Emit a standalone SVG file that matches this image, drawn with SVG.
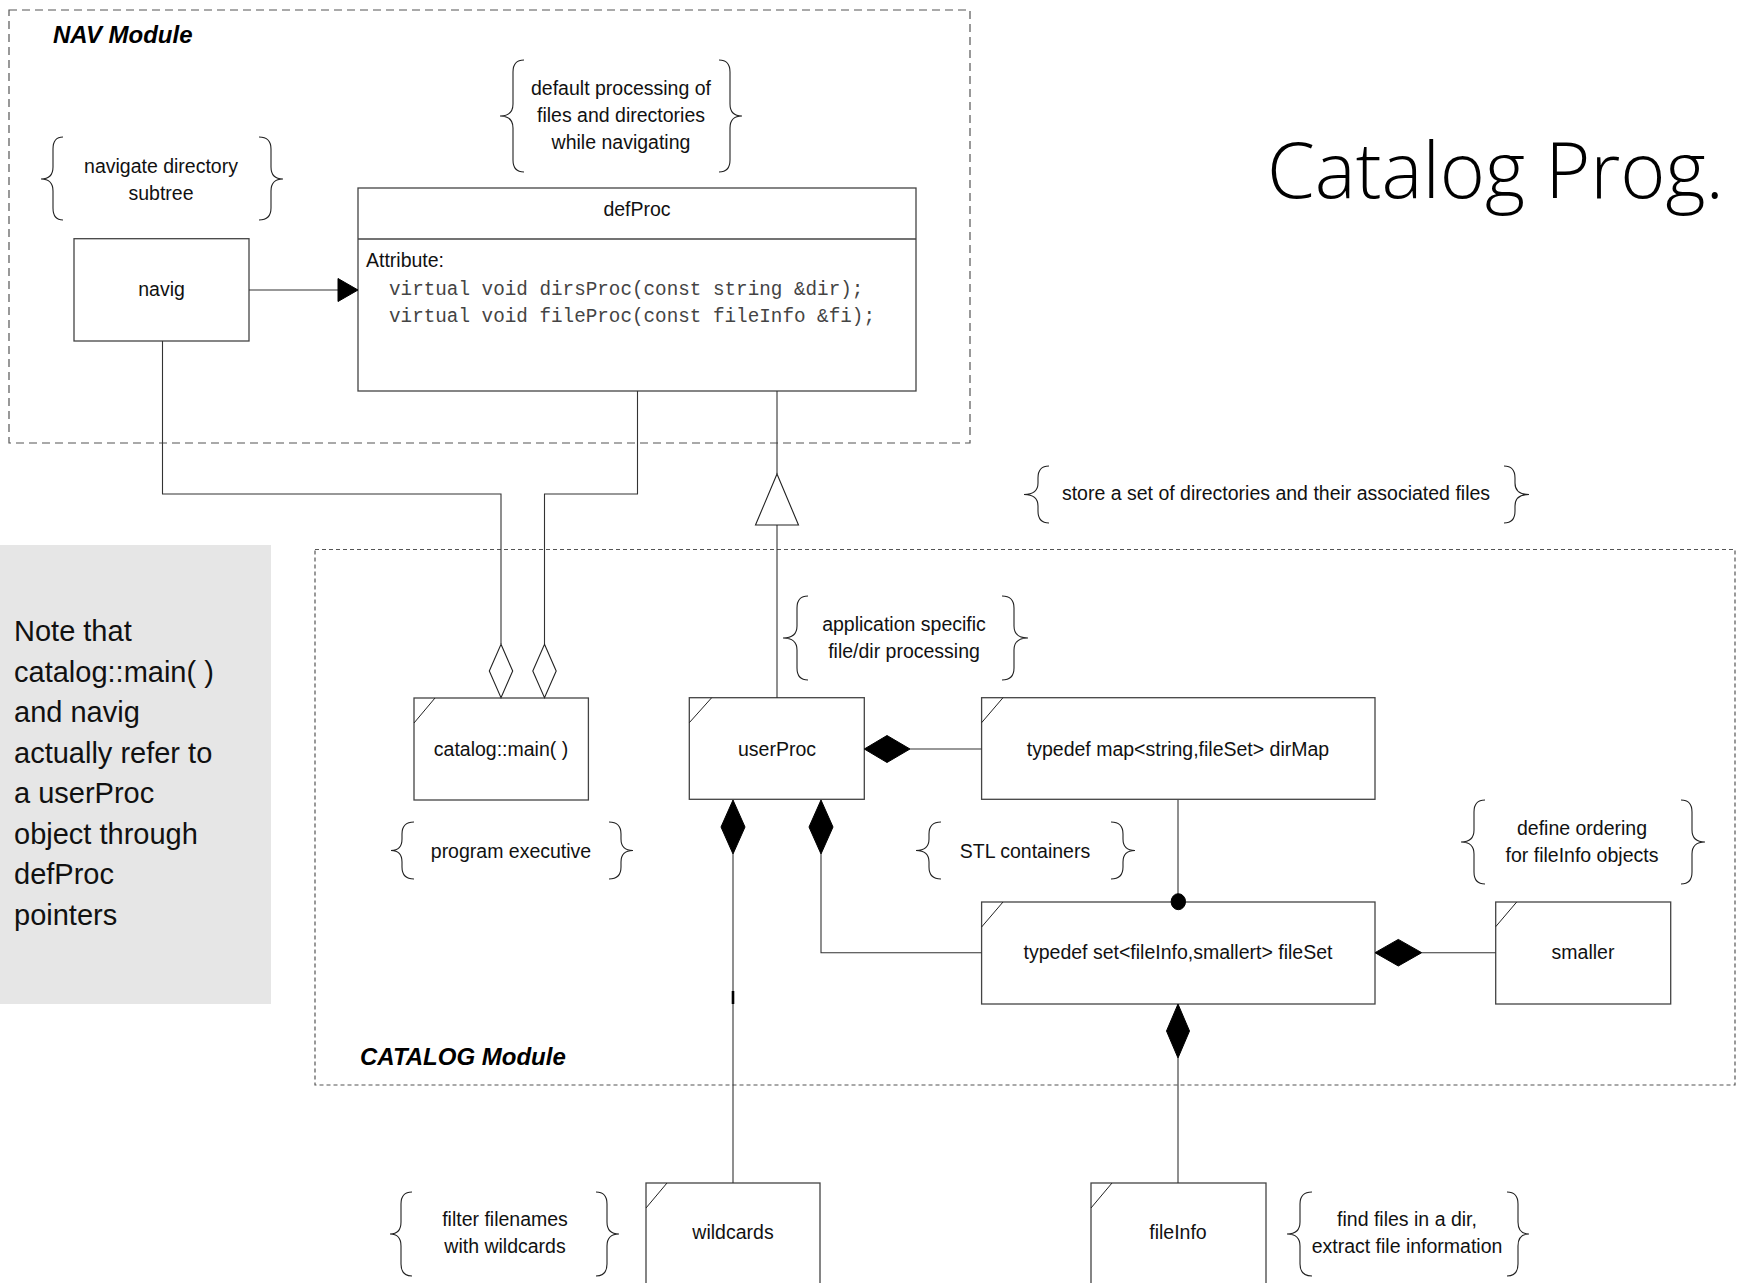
<svg xmlns="http://www.w3.org/2000/svg" width="1737" height="1283" viewBox="0 0 1737 1283">
  <style>
    .module { fill: none; stroke: #555; stroke-width: 1.2; }
    .nav-mod { stroke-dasharray: 8 5; }
    .cat-mod { stroke-dasharray: 4 3; }
    .mod-title { font-family: "Liberation Sans", Arial, sans-serif; font-size: 24px; font-weight: bold; font-style: italic; fill: #000; }
    .box { fill: #fff; stroke: #444; stroke-width: 1.3; }
    .fold { fill: none; stroke: #222; stroke-width: 1; }
    .lbl { font-family: "Liberation Sans", Arial, sans-serif; font-size: 19.5px; fill: #111; text-anchor: middle; }
    .attr { font-family: "Liberation Sans", Arial, sans-serif; font-size: 19.5px; fill: #111; }
    .code { font-family: "Liberation Mono", "Courier New", monospace; font-size: 19.3px; fill: #444; }
    .brace { fill: none; stroke: #222; stroke-width: 1.1; }
    .line { fill: none; stroke: #333; stroke-width: 1.1; }
    .solid { fill: #000; stroke: #000; stroke-width: 1; }
    .hollow { fill: #fff; stroke: #222; stroke-width: 1.1; }
    .note-text { font-family: "Liberation Sans", Arial, sans-serif; font-size: 29px; fill: #111; }
    .title { font-family: "Open Sans", "Noto Sans", sans-serif; font-size: 78px; font-weight: 300; fill: #000; }
  </style>

  <rect width="1737" height="1283" fill="#fff"/>

  <!-- module frames -->
  <g id="nav-module">
    <rect class="module nav-mod" x="9" y="10" width="961" height="433"/>
    <text class="mod-title" x="53" y="43">NAV Module</text>
  </g>
  <g id="catalog-module">
    <rect class="module cat-mod" x="315" y="549.5" width="1420" height="535.5"/>
    <text class="mod-title" x="360" y="1065">CATALOG Module</text>
  </g>

  <!-- side note -->
  <g id="note">
    <rect x="0" y="545" width="271" height="459" fill="#e6e6e6"/>
    <text class="note-text" x="14" y="641">Note that</text>
    <text class="note-text" x="14" y="681.5">catalog::main( )</text>
    <text class="note-text" x="14" y="722">and navig</text>
    <text class="note-text" x="14" y="762.5">actually refer to</text>
    <text class="note-text" x="14" y="803">a userProc</text>
    <text class="note-text" x="14" y="843.5">object through</text>
    <text class="note-text" x="14" y="884">defProc</text>
    <text class="note-text" x="14" y="924.5">pointers</text>
  </g>

  <!-- heading -->
  <text id="heading" class="title" x="1267" y="198" textLength="457" lengthAdjust="spacingAndGlyphs">Catalog Prog.</text>

  <!-- nodes -->
  <g id="navig">
    <rect class="box" x="74" y="238.7" width="175" height="102.3"/>
    <text class="lbl" x="161.5" y="296">navig</text>
  </g>

  <g id="defProc">
    <rect class="box" x="358" y="188" width="558" height="203"/>
    <path class="box" d="M358,239 H916"/>
    <text class="lbl" x="637" y="216">defProc</text>
    <text class="attr" x="366" y="267">Attribute:</text>
    <text class="code" x="389" y="295" xml:space="preserve">virtual void dirsProc(const string &amp;dir);</text>
    <text class="code" x="389" y="322" xml:space="preserve">virtual void fileProc(const fileInfo &amp;fi);</text>
  </g>

  <g id="catalog-main">
    <rect class="box" x="414" y="698" width="174.4" height="102"/>
    <path class="fold" d="M414,723 L435,698"/>
    <text class="lbl" x="501" y="756">catalog::main( )</text>
  </g>

  <g id="userProc">
    <rect class="box" x="689.3" y="697.7" width="175" height="101.6"/>
    <path class="fold" d="M689.3,722.7 L711.7,697.7"/>
    <text class="lbl" x="777" y="756">userProc</text>
  </g>

  <g id="dirMap">
    <rect class="box" x="981.6" y="697.7" width="393.4" height="101.6"/>
    <path class="fold" d="M981.6,722.7 L1003,697.7"/>
    <text class="lbl" x="1178" y="756">typedef map&lt;string,fileSet&gt; dirMap</text>
  </g>

  <g id="fileSet">
    <rect class="box" x="981.6" y="902" width="393.4" height="102"/>
    <path class="fold" d="M981.6,927 L1003,902"/>
    <text class="lbl" x="1178" y="959">typedef set&lt;fileInfo,smallert&gt; fileSet</text>
  </g>

  <g id="smaller">
    <rect class="box" x="1495.7" y="902" width="175" height="102"/>
    <path class="fold" d="M1495.7,926.7 L1516.7,902"/>
    <text class="lbl" x="1583" y="959">smaller</text>
  </g>

  <g id="wildcards">
    <rect class="box" x="646" y="1183" width="174" height="120"/>
    <path class="fold" d="M646,1208 L667,1183"/>
    <text class="lbl" x="733" y="1239">wildcards</text>
  </g>

  <g id="fileInfo">
    <rect class="box" x="1091" y="1183" width="175" height="120"/>
    <path class="fold" d="M1091,1208 L1112,1183"/>
    <text class="lbl" x="1178" y="1239">fileInfo</text>
  </g>

  <!-- connectors (drawn over the node edges they end on) -->
  <g id="connectors">
    <!-- navig uses defProc -->
    <path class="line" d="M249,290 H338"/>
    <polygon class="solid" points="338,278.5 358,290 338,301.5"/>

    <!-- catalog::main aggregates navig and defProc -->
    <path class="line" d="M162.5,341 V494 H501 V644"/>
    <polygon class="hollow" points="501,644.3 512.7,671 501,697.7 489.3,671"/>
    <path class="line" d="M637.5,391 V494 H544.5 V644"/>
    <polygon class="hollow" points="544.5,644.3 556.2,671 544.5,697.7 532.8,671"/>

    <!-- userProc specialises defProc -->
    <path class="line" d="M777,391 V474"/>
    <path class="line" d="M777,525 V698"/>
    <polygon class="hollow" points="777,474 798.5,525 755.5,525"/>

    <!-- userProc owns dirMap -->
    <path class="line" d="M910,749 H981.6"/>
    <polygon class="solid" points="864.3,749 887,735.5 910,749 887,762.5"/>

    <!-- userProc owns wildcards -->
    <path class="line" d="M733,854 V1183"/>
    <polygon class="solid" points="733,800 745,827 733,854 721,827"/>
    <path d="M733,991 V1004" stroke="#000" stroke-width="2.6"/>

    <!-- userProc owns fileSet -->
    <path class="line" d="M821,854 V952.7 H981.6"/>
    <polygon class="solid" points="821,800 833,827 821,854 809,827"/>

    <!-- dirMap holds fileSet -->
    <path class="line" d="M1178,800 V902"/>
    <ellipse class="solid" cx="1178.3" cy="901.7" rx="7.2" ry="8"/>

    <!-- fileSet owns smaller -->
    <path class="line" d="M1421.7,952.7 H1495.7"/>
    <polygon class="solid" points="1375,952.7 1398.3,939.4 1421.7,952.7 1398.3,966"/>

    <!-- fileSet owns fileInfo -->
    <path class="line" d="M1178,1058 V1183"/>
    <polygon class="solid" points="1178,1004 1189.5,1031 1178,1058 1166.5,1031"/>
  </g>

  <!-- brace comments -->
  <g id="note-navigate">
    <path class="brace" d="M63,137 Q53,137 53,149 L53,167 Q53,179 41,179 Q53,179 53,191 L53,208 Q53,220 63,220"/>
    <path class="brace" d="M259,137 Q271,137 271,149 L271,167 Q271,179 283,179 Q271,179 271,191 L271,208 Q271,220 259,220"/>
    <text class="lbl" x="161" y="173">navigate directory</text>
    <text class="lbl" x="161" y="200">subtree</text>
  </g>

  <g id="note-default">
    <path class="brace" d="M524,60 Q513,60 513,72 L513,104 Q513,116 500,116 Q513,116 513,128 L513,160 Q513,172 524,172"/>
    <path class="brace" d="M719,60 Q730,60 730,72 L730,104 Q730,116 742,116 Q730,116 730,128 L730,160 Q730,172 719,172"/>
    <text class="lbl" x="621" y="95">default processing of</text>
    <text class="lbl" x="621" y="122">files and directories</text>
    <text class="lbl" x="621" y="149">while navigating</text>
  </g>

  <g id="note-store">
    <path class="brace" d="M1049,466 Q1038,466 1038,478 L1038,483 Q1038,494.5 1024,494.5 Q1038,494.5 1038,506 L1038,511 Q1038,523 1049,523"/>
    <path class="brace" d="M1504,466 Q1515,466 1515,478 L1515,483 Q1515,494.5 1529,494.5 Q1515,494.5 1515,506 L1515,511 Q1515,523 1504,523"/>
    <text class="lbl" x="1276" y="500">store a set of directories and their associated files</text>
  </g>

  <g id="note-application">
    <path class="brace" d="M808,596 Q797,596 797,608 L797,626 Q797,638 783,638 Q797,638 797,650 L797,668 Q797,680 808,680"/>
    <path class="brace" d="M1002,596 Q1014,596 1014,608 L1014,626 Q1014,638 1028,638 Q1014,638 1014,650 L1014,668 Q1014,680 1002,680"/>
    <text class="lbl" x="904" y="631">application specific</text>
    <text class="lbl" x="904" y="658">file/dir processing</text>
  </g>

  <g id="note-executive">
    <path class="brace" d="M414,822 Q402,822 402,834 L402,839 Q402,850.5 391,850.5 Q402,850.5 402,862 L402,867 Q402,879 414,879"/>
    <path class="brace" d="M609,822 Q621,822 621,834 L621,839 Q621,850.5 633,850.5 Q621,850.5 621,862 L621,867 Q621,879 609,879"/>
    <text class="lbl" x="511" y="858">program executive</text>
  </g>

  <g id="note-stl">
    <path class="brace" d="M941,822 Q929,822 929,834 L929,839 Q929,850.5 916,850.5 Q929,850.5 929,862 L929,867 Q929,879 941,879"/>
    <path class="brace" d="M1111,822 Q1123,822 1123,834 L1123,839 Q1123,850.5 1135,850.5 Q1123,850.5 1123,862 L1123,867 Q1123,879 1111,879"/>
    <text class="lbl" x="1025" y="858">STL containers</text>
  </g>

  <g id="note-ordering">
    <path class="brace" d="M1485,800 Q1474,800 1474,812 L1474,830 Q1474,842 1461,842 Q1474,842 1474,854 L1474,872 Q1474,884 1485,884"/>
    <path class="brace" d="M1681,800 Q1692,800 1692,812 L1692,830 Q1692,842 1705,842 Q1692,842 1692,854 L1692,872 Q1692,884 1681,884"/>
    <text class="lbl" x="1582" y="835">define ordering</text>
    <text class="lbl" x="1582" y="862">for fileInfo objects</text>
  </g>

  <g id="note-filter">
    <path class="brace" d="M412,1192 Q401,1192 401,1204 L401,1222 Q401,1234 390,1234 Q401,1234 401,1246 L401,1264 Q401,1276 412,1276"/>
    <path class="brace" d="M596,1192 Q607,1192 607,1204 L607,1222 Q607,1234 619,1234 Q607,1234 607,1246 L607,1264 Q607,1276 596,1276"/>
    <text class="lbl" x="505" y="1226">filter filenames</text>
    <text class="lbl" x="505" y="1253">with wildcards</text>
  </g>

  <g id="note-find">
    <path class="brace" d="M1312,1192 Q1300,1192 1300,1204 L1300,1222 Q1300,1234 1287,1234 Q1300,1234 1300,1246 L1300,1264 Q1300,1276 1312,1276"/>
    <path class="brace" d="M1507,1192 Q1518,1192 1518,1204 L1518,1222 Q1518,1234 1529,1234 Q1518,1234 1518,1246 L1518,1264 Q1518,1276 1507,1276"/>
    <text class="lbl" x="1407" y="1226">find files in a dir,</text>
    <text class="lbl" x="1407" y="1253">extract file information</text>
  </g>
</svg>
